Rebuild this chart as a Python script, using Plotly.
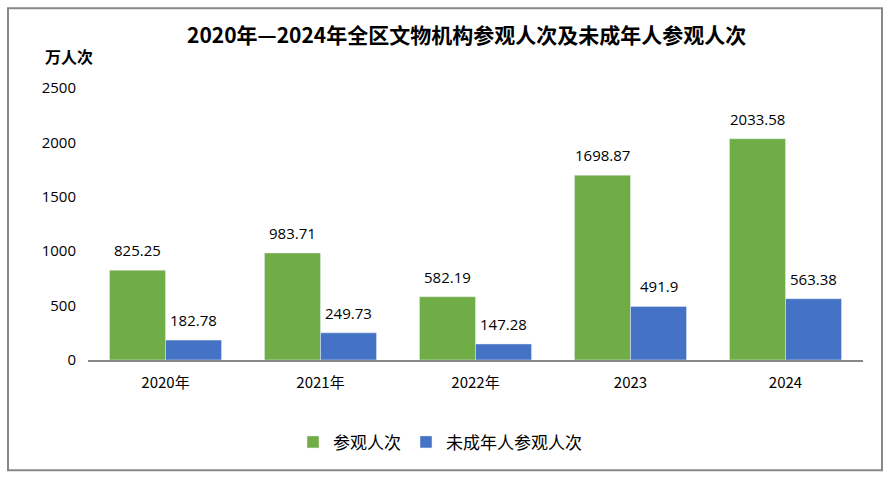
import plotly.graph_objects as go

categories = ["2020年", "2021年", "2022年", "2023", "2024"]
visitors = [825.25, 983.71, 582.19, 1698.87, 2033.58]
minors = [182.78, 249.73, 147.28, 491.9, 563.38]
label_visitors = ["825.25", "983.71", "582.19", "1698.87", "2033.58"]
label_minors = ["182.78", "249.73", "147.28", "491.9", "563.38"]
yticks = [0, 500, 1000, 1500, 2000, 2500]

GREEN = "#70AD47"
BLUE = "#4472C4"
CJK = "Noto Sans CJK SC"
NUM = "Open Sans"

W, H = 890, 479
L, R, T, B = 88, 27, 88, 118.5
pw, ph = W - L - R, H - T - B

def px(x):
    return (x - L) / pw

def py(y):
    return (H - B - y) / ph

fig = go.Figure()
fig.add_trace(go.Bar(name="参观人次", x=categories, y=visitors, marker_color=GREEN))
fig.add_trace(go.Bar(name="未成年人参观人次", x=categories, y=minors, marker_color=BLUE))

bar_px = pw / len(categories) * (1 - 0.277) / 2
annotations = []
for i, (v, t) in enumerate(zip(visitors, label_visitors)):
    annotations.append(dict(x=i, y=v, text=t, showarrow=False, xshift=-bar_px / 2,
                            yshift=20, yanchor="middle", font=dict(family=NUM, size=15, color="#000")))
for i, (v, t) in enumerate(zip(minors, label_minors)):
    annotations.append(dict(x=i, y=v, text=t, showarrow=False, xshift=bar_px / 2,
                            yshift=20, yanchor="middle", font=dict(family=NUM, size=15, color="#000")))

annotations.append(dict(xref="paper", yref="paper", x=px(466), y=py(34), xanchor="center", yanchor="middle",
                        text="<b>2020年—2024年全区文物机构参观人次及未成年人参观人次</b>", showarrow=False,
                        font=dict(family=CJK, size=21, color="#000")))
annotations.append(dict(xref="paper", yref="paper", x=px(69), y=py(56), xanchor="center", yanchor="middle",
                        text="<b>万人次</b>", showarrow=False, font=dict(family=CJK, size=16, color="#000")))

fig.update_layout(
    width=W, height=H,
    margin=dict(l=L, r=R, t=T, b=B, pad=0),
    paper_bgcolor="white", plot_bgcolor="white",
    barmode="group", bargap=0.277, bargroupgap=0,
    showlegend=True,
    legend=dict(orientation="h", xref="paper", yref="paper", x=px(440), y=py(443),
                xanchor="center", yanchor="middle", font=dict(family=CJK, size=17, color="#000"),
                itemwidth=30, traceorder="normal", itemclick=False),
    annotations=annotations,
    shapes=[dict(type="rect", xref="paper", yref="paper", x0=px(8), x1=px(882), y0=py(471), y1=py(8),
                 line=dict(color="#888888", width=2), fillcolor="rgba(0,0,0,0)", layer="below")],
    xaxis=dict(type="category", categoryorder="array", categoryarray=categories,
               range=[-0.5, len(categories) - 0.5], showline=True, linecolor="#888888", linewidth=2,
               showgrid=False, ticks="",
               tickfont=dict(family=CJK, size=15, color="#000"), ticklabelstandoff=8),
    yaxis=dict(range=[0, 2500], tickvals=yticks, showgrid=False, zeroline=False, showline=False,
               ticks="", tickfont=dict(family=NUM, size=15, color="#000"), ticklabelstandoff=11),
)

fig.write_html("out.html", config={"displayModeBar": False},
               post_script="document.body.style.margin='0px';document.body.style.overflow='hidden';")
